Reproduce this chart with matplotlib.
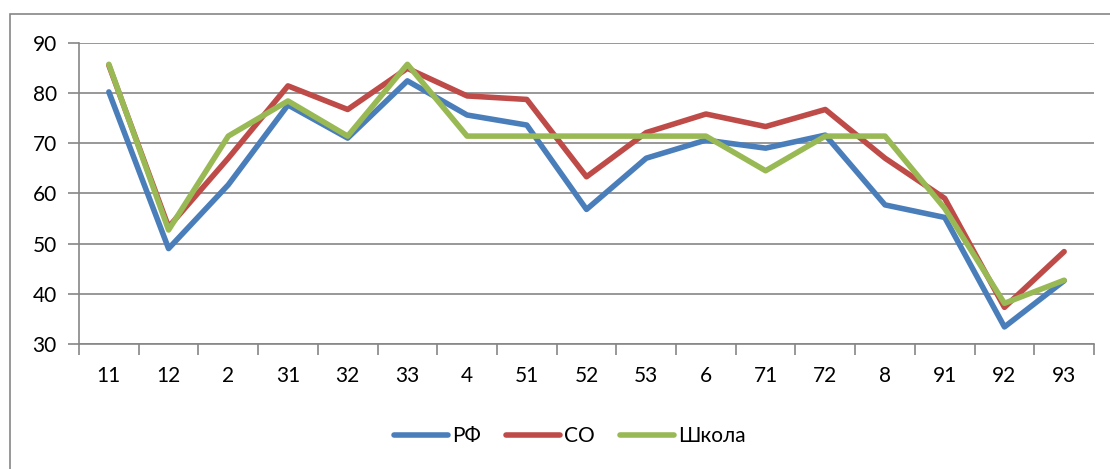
import matplotlib.pyplot as plt
import matplotlib.ticker as mticker
from matplotlib.patches import Rectangle

categories = ["11", "12", "2", "31", "32", "33", "4", "51", "52", "53",
              "6", "71", "72", "8", "91", "92", "93"]
rf    = [80.2, 49.0, 61.7, 77.6, 71.0, 82.4, 75.6, 73.6, 56.8, 67.0,
         70.6, 69.0, 71.6, 57.7, 55.2, 33.4, 42.6]
so    = [85.5, 53.3, 67.0, 81.4, 76.7, 84.9, 79.4, 78.7, 63.3, 72.1,
         75.8, 73.3, 76.7, 67.0, 59.0, 37.3, 48.4]
shkola = [85.7, 52.7, 71.4, 78.4, 71.4, 85.7, 71.4, 71.4, 71.4, 71.4,
          71.4, 64.5, 71.4, 71.4, 57.0, 38.1, 42.7]

plt.rcParams["font.family"] = ["Lato", "DejaVu Sans"]

fig = plt.figure(figsize=(11.1, 4.69), dpi=100)
ax = fig.add_axes([79 / 1110, 1 - 344 / 469, (1094 - 79) / 1110, (344 - 42.7) / 469])

# outer chart frame
fig.patches.append(Rectangle((9.5 / 1110, -0.1), 1.2, 1 - 14 / 469 + 0.1,
                             transform=fig.transFigure, fill=False,
                             edgecolor="#868686", linewidth=1.2))

x = range(len(categories))
lw = 4
ax.plot(x, rf, color="#4A7EBB", linewidth=lw, label="РФ", solid_capstyle="round")
ax.plot(x, so, color="#BE4B48", linewidth=lw, label="СО", solid_capstyle="round")
ax.plot(x, shkola, color="#98B954", linewidth=lw, label="Школа", solid_capstyle="round")

ax.set_xlim(-0.5, len(categories) - 0.5)
ax.set_ylim(30, 90)
ax.set_yticks(range(30, 91, 10))
ax.set_xticks(list(x))
ax.set_xticklabels(categories)
ax.xaxis.set_minor_locator(mticker.FixedLocator([i - 0.5 for i in range(len(categories) + 1)]))

ax.tick_params(axis="x", which="major", length=0, pad=16, labelsize=15)
ax.tick_params(axis="x", which="minor", length=8, color="#868686", width=1.2, direction="out")
ax.tick_params(axis="y", length=8, color="#868686", width=1.2, pad=8, labelsize=15)

ax.grid(axis="y", color="#868686", linewidth=1.2)
ax.set_axisbelow(True)
for side in ["top", "right"]:
    ax.spines[side].set_visible(False)
for side in ["left", "bottom"]:
    ax.spines[side].set_color("#868686")
    ax.spines[side].set_linewidth(1.2)

fig.legend(loc="center", bbox_to_anchor=(570 / 1110, 1 - 436 / 469), ncol=3,
           frameon=False, fontsize=15, handlelength=2.6, handletextpad=0.2,
           columnspacing=1.2)

fig.savefig("out.png", dpi=100)
